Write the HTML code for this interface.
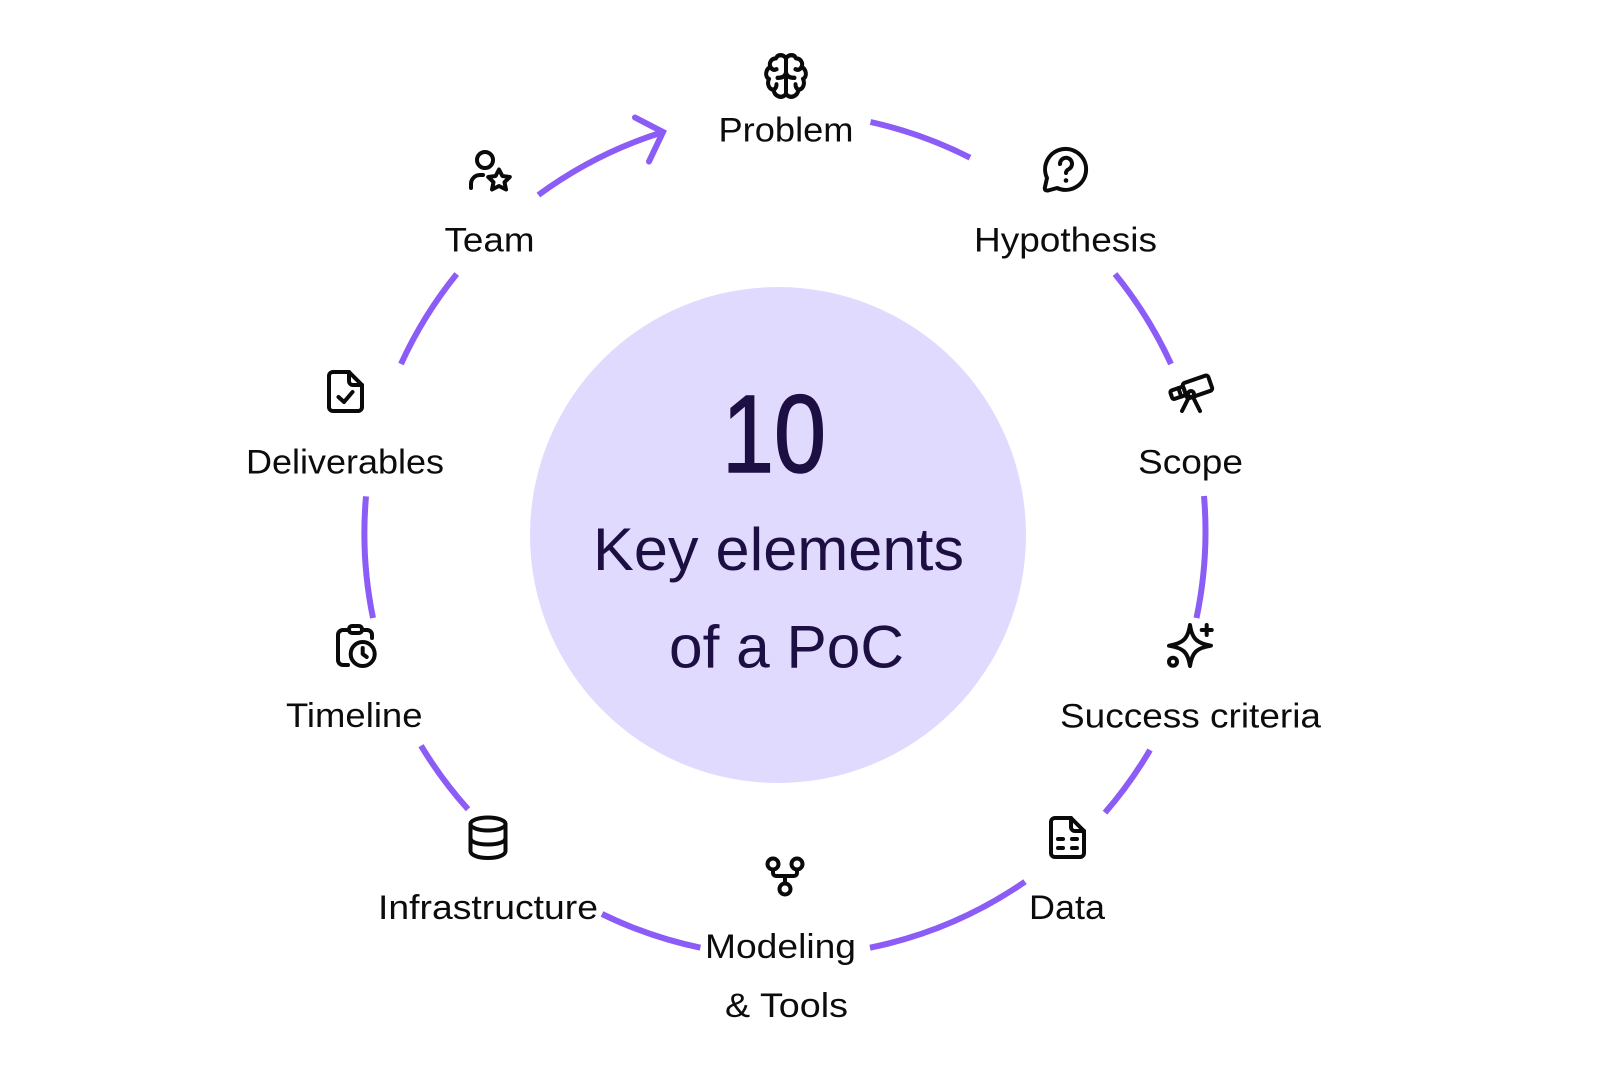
<!DOCTYPE html>
<html lang="en">
<head>
<meta charset="utf-8">
<title>10 Key elements of a PoC</title>
<style>
html,body{margin:0;padding:0;background:#fff;width:1624px;height:1072px;overflow:hidden}
svg{display:block}
text{font-family:"Liberation Sans",Arial,sans-serif}
.l{font-size:34px;fill:#0c0c0c}
.c{fill:#1d0f42}
.arc{fill:none;stroke:#8b5cf6;stroke-width:6}
.i{fill:none;stroke:#0a0a0a;stroke-width:4;stroke-linecap:round;stroke-linejoin:round}
</style>
</head>
<body>
<svg width="1624" height="1072" viewBox="0 0 1624 1072" xmlns="http://www.w3.org/2000/svg">
<rect width="1624" height="1072" fill="#fff"/>
<circle cx="778" cy="535" r="248" fill="#e0daff"/>

<!-- ring -->
<path class="arc" d="M870.5 122 A421 421 0 0 1 970 157.7"/>
<path class="arc" d="M1115 274 A421 421 0 0 1 1171 364"/>
<path class="arc" d="M1204 496 A421 421 0 0 1 1196.500 618"/>
<path class="arc" d="M1150 750 A421 421 0 0 1 1105 812.7"/>
<path class="arc" d="M1025 881.7 A421 421 0 0 1 870 947.7"/>
<path class="arc" d="M700.4 947.7 A421 421 0 0 1 602 914"/>
<path class="arc" d="M468 809.3 A421 421 0 0 1 421 745.7"/>
<path class="arc" d="M373 618 A421 421 0 0 1 366 496.4"/>
<path class="arc" d="M401 364 A421 421 0 0 1 456.700 274"/>
<path class="arc" d="M538.4 195 A421 421 0 0 1 660 133"/>
<path class="arc" stroke-linecap="round" d="M635 117.500 L663 132 L649 161.500"/>

<!-- labels -->
<text class="l" x="718.500" y="141.7" textLength="135" lengthAdjust="spacingAndGlyphs">Problem</text>
<text class="l" x="974" y="251.7" textLength="183" lengthAdjust="spacingAndGlyphs">Hypothesis</text>
<text class="l" x="1138" y="473.500" textLength="105" lengthAdjust="spacingAndGlyphs">Scope</text>
<text class="l" x="1060" y="727.7" textLength="261" lengthAdjust="spacingAndGlyphs">Success criteria</text>
<text class="l" x="1029" y="919" textLength="76" lengthAdjust="spacingAndGlyphs">Data</text>
<text class="l" x="705" y="958" textLength="151" lengthAdjust="spacingAndGlyphs">Modeling</text>
<text class="l" x="725" y="1017" textLength="123" lengthAdjust="spacingAndGlyphs">&amp; Tools</text>
<text class="l" x="378" y="919" textLength="220" lengthAdjust="spacingAndGlyphs">Infrastructure</text>
<text class="l" x="286" y="726.8" textLength="136.500" lengthAdjust="spacingAndGlyphs">Timeline</text>
<text class="l" x="246" y="473.500" textLength="198" lengthAdjust="spacingAndGlyphs">Deliverables</text>
<text class="l" x="444.500" y="251.7" textLength="90" lengthAdjust="spacingAndGlyphs">Team</text>

<!-- centre text -->
<text class="c" x="722" y="472" font-size="110" stroke="#1d0f42" stroke-width="1.500" textLength="104" lengthAdjust="spacingAndGlyphs">10</text>
<text class="c" x="593" y="570" font-size="60" textLength="371" lengthAdjust="spacingAndGlyphs">Key elements</text>
<text class="c" x="669" y="667.7" font-size="60" textLength="235" lengthAdjust="spacingAndGlyphs">of a PoC</text>

<!-- brain -->
<g class="i" transform="translate(764.5,53) scale(1,1.08)">
<path d="M21.5 5 C19 1 13 1 11.5 5 C7 5 4 9 6 13 C1 15 0 22 4.500 24 C2 29 5 34 9 34 C10 40 17 43 21.500 38 C26 43 33 40 34 34 C38 34 41 29 38.500 24 C43 22 42 15 37 13 C39 9 36 5 31.500 5 C30 1 24 1 21.500 5 Z"/>
<path d="M21.500 5 V38"/>
<path d="M13 23 C17 23 21.500 22 21.500 17 C21.500 22 26 23 30 23"/>
<path d="M6 13 C8 16 10 16 12 15 M37 13 C35 16 33 16 31 15 M9 34 C11 33 12 31 12 29 M34 34 C32 33 31 31 31 29"/>
</g>

<!-- question bubble -->
<g class="i">
<path d="M1047 178 A20.500 20.500 0 1 1 1057 188 L1048 190.500 Q1044 191 1045 187 Z"/>
<path d="M1060 164 a6 6 0 1 1 9 5 c-2 1 -3 2 -3 4"/>
</g>
<circle cx="1066" cy="180.500" r="2.300" fill="#0a0a0a"/>

<!-- telescope -->
<g class="i">
<g transform="rotate(-19 1191 388)">
<rect x="1170" y="384" width="14" height="9" rx="2"/>
<rect x="1184" y="381" width="27" height="16" rx="2.500"/>
<path d="M1179 384 v9"/>
</g>
<circle cx="1191" cy="394" r="3"/>
<path d="M1189 397 L1182 411 M1193 397 L1200 411"/>
</g>

<!-- sparkle -->
<g class="i">
<path d="M1190 625 C1192 638 1196 643 1211 645.700 C1196 648 1192 653 1190 666 C1188 653 1184 648 1169 645.700 C1184 643 1188 638 1190 625 Z"/>
<path d="M1206.700 625 v10 M1201.700 630 h10"/>
<circle cx="1173" cy="661.700" r="4"/>
</g>

<!-- data doc -->
<g class="i">
<path d="M1055 818 H1071 L1084 831 V853 a4 4 0 0 1 -4 4 H1055 a4 4 0 0 1 -4 -4 V822 a4 4 0 0 1 4 -4 Z"/>
<path d="M1071 818 V827 a4 4 0 0 0 4 4 H1084"/>
<path d="M1058 839 h5 M1072 839 h5 M1058 848 h5 M1072 848 h5"/>
</g>

<!-- model -->
<g class="i">
<circle cx="773" cy="864" r="5.500"/>
<circle cx="797" cy="864" r="5.500"/>
<circle cx="785" cy="889" r="5.500"/>
<path d="M773 870 v3 a3 3 0 0 0 3 3 h18 a3 3 0 0 0 3 -3 v-3 M785 876 v7"/>
</g>

<!-- database -->
<g class="i">
<ellipse cx="488" cy="824" rx="17.500" ry="6.500"/>
<path d="M470.500 824 V851 C470.500 855 478 858 488 858 C498 858 505.500 855 505.500 851 V824"/>
<path d="M470.500 838 C470.500 842 478 844.500 488 844.500 C498 844.500 505.500 842 505.500 838"/>
</g>

<!-- timeline -->
<g class="i">
<rect x="349" y="626" width="13" height="7" rx="3"/>
<path d="M349 630 H343 a5 5 0 0 0 -5 5 V660 a5 5 0 0 0 5 5 H348"/>
<path d="M362 630 H367 a5 5 0 0 1 5 5 V638"/>
<circle cx="362.700" cy="654" r="12"/>
<path d="M362.700 648 v6 l4 3"/>
</g>

<!-- deliverables -->
<g class="i">
<path d="M333 372 H349 L362 385 V407 a4 4 0 0 1 -4 4 H333 a4 4 0 0 1 -4 -4 V376 a4 4 0 0 1 4 -4 Z"/>
<path d="M349 372 V381 a4 4 0 0 0 4 4 H362"/>
<path d="M338.500 397 L344 402 L352.500 392"/>
</g>

<!-- team -->
<g class="i">
<circle cx="485" cy="160" r="8"/>
<path d="M471 188 V184 a9 9 0 0 1 9 -9 H483"/>
<path d="M499 169.500 L502.400 176 L509.800 177 L504.500 182.200 L506 189.500 L499 186 L492 189.500 L493.500 182.200 L488.200 177 L495.600 176 Z"/>
</g>
</svg>
</body>
</html>
